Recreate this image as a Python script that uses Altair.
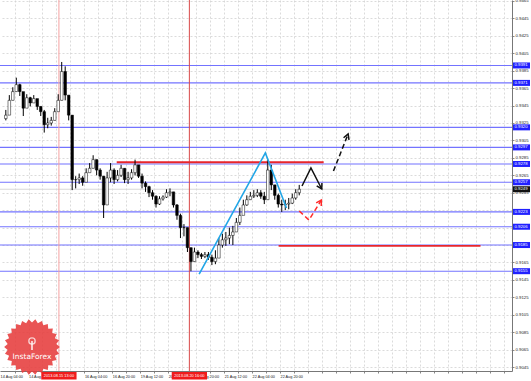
import math
import altair as alt
import pandas as pd

# ---------------- data ----------------
# bar time index (trading hours since 14 Aug 00:00, H2 bars)
bar_t = list(range(7, 7 + 2 * 85, 2))
close = [0.9334, 0.9351, 0.9361, 0.9369, 0.9361, 0.9342, 0.9354, 0.9348, 0.9353, 0.9344,
         0.9338, 0.9323, 0.9325, 0.9328, 0.9338, 0.9351, 0.9384, 0.9357, 0.9334, 0.9260,
         0.9260, 0.9262, 0.9257, 0.9268, 0.9273, 0.9283, 0.9271, 0.9264, 0.9231, 0.9262,
         0.9271, 0.9260, 0.9265, 0.9273, 0.9260, 0.9262, 0.9268, 0.9277, 0.9264, 0.9256,
         0.9252, 0.9245, 0.9241, 0.9232, 0.9238, 0.9240, 0.9245, 0.9246, 0.9231, 0.9219,
         0.9205, 0.9205, 0.9182, 0.9166, 0.9177, 0.9174, 0.9172, 0.9174, 0.9171, 0.9166,
         0.9170, 0.9185, 0.9191, 0.9193, 0.9196, 0.9200, 0.9211, 0.9219, 0.9231, 0.9237,
         0.9241, 0.9242, 0.9245, 0.9241, 0.9237, 0.9271, 0.9254, 0.9242, 0.9232, 0.9231,
         0.9232, 0.9233, 0.9239, 0.9245, 0.9249]
high = [0.9340, 0.9357, 0.9366, 0.9377, 0.9370, 0.9357, 0.9358, 0.9355, 0.9357, 0.9351,
        0.9344, 0.9340, 0.9331, 0.9332, 0.9342, 0.9358, 0.9395, 0.9390, 0.9351, 0.9334,
        0.9264, 0.9267, 0.9264, 0.9273, 0.9279, 0.9288, 0.9283, 0.9273, 0.9264, 0.9269,
        0.9279, 0.9273, 0.9271, 0.9277, 0.9273, 0.9269, 0.9272, 0.9283, 0.9276, 0.9267,
        0.9258, 0.9253, 0.9248, 0.9242, 0.9241, 0.9242, 0.9249, 0.9250, 0.9246, 0.9232,
        0.9221, 0.9209, 0.9205, 0.9182, 0.9182, 0.9179, 0.9176, 0.9177, 0.9177, 0.9174,
        0.9179, 0.9193, 0.9198, 0.9200, 0.9205, 0.9207, 0.9216, 0.9228, 0.9237, 0.9242,
        0.9246, 0.9248, 0.9249, 0.9248, 0.9246, 0.9283, 0.9277, 0.9254, 0.9244, 0.9237,
        0.9237, 0.9239, 0.9244, 0.9249, 0.9254]
low = [0.9328, 0.9338, 0.9351, 0.9361, 0.9356, 0.9333, 0.9347, 0.9344, 0.9348, 0.9340,
       0.9333, 0.9314, 0.9319, 0.9322, 0.9328, 0.9342, 0.9351, 0.9351, 0.9328, 0.9248,
       0.9250, 0.9255, 0.9253, 0.9262, 0.9269, 0.9273, 0.9265, 0.9260, 0.9216, 0.9237,
       0.9257, 0.9255, 0.9258, 0.9263, 0.9256, 0.9255, 0.9260, 0.9265, 0.9262, 0.9250,
       0.9246, 0.9240, 0.9237, 0.9228, 0.9231, 0.9236, 0.9239, 0.9241, 0.9228, 0.9214,
       0.9193, 0.9195, 0.9177, 0.9155, 0.9166, 0.9170, 0.9169, 0.9170, 0.9168, 0.9162,
       0.9163, 0.9177, 0.9182, 0.9184, 0.9186, 0.9185, 0.9200, 0.9208, 0.9223, 0.9230,
       0.9237, 0.9239, 0.9240, 0.9238, 0.9232, 0.9237, 0.9248, 0.9237, 0.9228, 0.9223,
       0.9225, 0.9226, 0.9232, 0.9237, 0.9242]
first_open = 0.9330

# right axis tick labels
price_ticks = [0.9045, 0.9065, 0.9085, 0.9105, 0.9125, 0.9145, 0.9165, 0.9185, 0.9205,
               0.9225, 0.9245, 0.9265, 0.9285, 0.9305, 0.9325, 0.9345, 0.9365, 0.9385,
               0.9405, 0.9425, 0.9445, 0.9465]
# time axis labels (15 Aug 12:00 is hidden under the red time box, so not drawn)
time_label_t = [4, 20, 52, 68, 84, 100, 116, 132, 148, 164]
time_label_txt = ["14 Aug 04:00", "14 Aug 20:00", "16 Aug 04:00",
                  "16 Aug 20:00", "19 Aug 12:00", "20 Aug 04:00", "20 Aug 20:00",
                  "21 Aug 12:00", "22 Aug 04:00", "22 Aug 20:00"]
grid_t = list(range(12, 296, 8))

# horizontal support / resistance levels (blue)
levels = [0.9391, 0.9371, 0.9320, 0.9297, 0.9278, 0.9257, 0.9223, 0.9206, 0.9185, 0.9155]
bid = 0.9249

# red horizontal segments
red_p = [0.9280, 0.9184]
red_t1 = [70.5, 163.2]
red_t2 = [189.0, 278.8]

# vertical markers
vl_t = [37.4, 112.1]
vl_txt = ["2013.08.15 13:00", "2013.08.20 16:00"]
vl_col = ["#f5a3a3", "#d94848"]

# blue trend lines
blue_t = [117.7, 155.6, 167.7]
blue_p = [0.91517, 0.92906, 0.92275]

# forecast arrows (id, t, p)
arrows = [
    ("bs", 176.6, 0.92527), ("bs", 181.7, 0.92734), ("bs", 187.9, 0.92493),
    ("bsh", 185.0, 0.92529), ("bsh", 187.9, 0.92493), ("bsh", 188.0, 0.92561),
    ("bd", 194.6, 0.92699), ("bd", 203.0, 0.93124),
    ("bdh", 200.4, 0.93081), ("bdh", 203.0, 0.93124), ("bdh", 203.5, 0.93056),
    ("rd", 175.0, 0.92240), ("rd", 180.6, 0.92137), ("rd", 187.7, 0.92366),
    ("rdh", 184.7, 0.92334), ("rdh", 187.7, 0.92366), ("rdh", 187.6, 0.92297),
]
arrow_style = {"bs": ("#111111", "solid"), "bsh": ("#111111", "solid"),
               "bd": ("#111111", "dash"), "bdh": ("#111111", "solid"),
               "rd": ("#ff2b2b", "dash"), "rdh": ("#ff2b2b", "solid")}

# ---------------- build tables ----------------
opens = [first_open] + close[:-1]
candles = pd.DataFrame({"t": bar_t, "o": opens, "c": close, "h": high, "l": low})
candles["up"] = candles["c"] >= candles["o"]

XS = alt.Scale(domain=[6.53, 293.97], nice=False, zero=False)
YS = alt.Scale(domain=[0.90405, 0.94661], nice=False, zero=False)
FONT = "Liberation Sans"

label_expr = " : ".join(
    f"datum.value == {t} ? '{s}'" for t, s in zip(time_label_t[1:], time_label_txt[1:])
) + " : ''"

x_axis = alt.Axis(values=grid_t, labelExpr=label_expr, grid=True, gridDash=[2, 2],
                  gridColor="#d2d2d2", gridWidth=0.8, labelFontSize=3.8, labelFont=FONT,
                  labelColor="#222", labelAlign="left", labelPadding=1.5, labelFlush=False,
                  labelOverlap=False, tickSize=2, tickColor="#888", domainColor="#777",
                  title=None)
y_axis = alt.Axis(values=price_ticks, format=".4f", orient="right", grid=True,
                  gridDash=[2, 2], gridColor="#d2d2d2", gridWidth=0.8, labelFontSize=4.3,
                  labelFont=FONT, labelColor="#222", labelPadding=1, tickSize=2,
                  tickColor="#888", domainColor="#777", labelFlush=False,
                  labelOverlap=False, title=None)


def X(field="t"):
    return alt.X(f"{field}:Q", scale=XS, axis=x_axis, title=None)


def Y(field):
    return alt.Y(f"{field}:Q", scale=YS, axis=y_axis, title=None)


# level lines
lev_df = pd.DataFrame({"p": levels, "txt": [f"{v:.4f}" for v in levels]})
level_lines = alt.Chart(lev_df).mark_rule(color="#7373ff", strokeWidth=1.1).encode(
    y=Y("p"), x=alt.value(0), x2=alt.value(512))

bid_df = pd.DataFrame({"p": [bid], "txt": [f"{bid:.4f}"]})
bid_line = alt.Chart(bid_df).mark_rule(color="#d8d8d8", strokeWidth=1).encode(
    y=Y("p"), x=alt.value(0), x2=alt.value(512))

# vertical markers
vl_df = pd.DataFrame({"t": vl_t, "txt": vl_txt, "col": vl_col,
                      "t1": [v - 10.1 for v in vl_t], "t2": [v + 10.1 for v in vl_t]})
vlines = alt.Chart(vl_df).mark_rule(strokeWidth=1).encode(
    x=X(), y=alt.value(0), y2=alt.value(371),
    color=alt.Color("col:N", scale=None))

# red horizontal segments
red_df = pd.DataFrame({"p": red_p, "t1": red_t1, "t2": red_t2})
red_lines = alt.Chart(red_df).mark_rule(color="#e8262b", strokeWidth=1.8).encode(
    y=Y("p"), x=X("t1"), x2=alt.X2("t2:Q"))

# candles
wicks = alt.Chart(candles).mark_rule(color="#000", strokeWidth=1).encode(
    x=X(), y=Y("l"), y2=alt.Y2("h:Q"))
bodies = alt.Chart(candles).mark_bar(size=2.6, stroke="#000", strokeWidth=0.5).encode(
    x=X(), y=Y("o"), y2=alt.Y2("c:Q"),
    fill=alt.condition("datum.up", alt.value("#ffffff"), alt.value("#000000")))

# blue trend lines
blue_df = pd.DataFrame({"t": blue_t, "p": blue_p, "k": range(len(blue_t))})
blue = alt.Chart(blue_df).mark_line(color="#22a6e6", strokeWidth=1.6).encode(
    x=X(), y=Y("p"), order="k:Q")

# arrows
arr_df = pd.DataFrame(arrows, columns=["id", "t", "p"])
arr_df["k"] = range(len(arr_df))
layers_arrows = []
for aid, (col, style) in arrow_style.items():
    sub = arr_df[arr_df["id"] == aid]
    kw = dict(color=col, strokeWidth=1.5)
    if style == "dash":
        kw["strokeDash"] = [5, 3]
    layers_arrows.append(alt.Chart(sub).mark_line(**kw).encode(
        x=X(), y=Y("p"), order="k:Q"))

# right-axis highlighted labels
lev_boxes = alt.Chart(lev_df).mark_rule(color="#2020ff", strokeWidth=6, strokeCap="butt").encode(
    y=Y("p"), x=alt.value(513), x2=alt.value(530))
lev_text = alt.Chart(lev_df).mark_text(color="#fff", fontSize=4.3, font=FONT, align="left",
                                       baseline="middle").encode(
    y=Y("p"), x=alt.value(514.5), text="txt:N")
bid_box = alt.Chart(bid_df).mark_rule(color="#111", strokeWidth=6, strokeCap="butt").encode(
    y=Y("p"), x=alt.value(513), x2=alt.value(530))
bid_text = alt.Chart(bid_df).mark_text(color="#fff", fontSize=4.3, font=FONT, align="left",
                                       baseline="middle").encode(
    y=Y("p"), x=alt.value(514.5), text="txt:N")

# bottom red time boxes
vl_boxes = alt.Chart(vl_df).mark_rect(color="#f01c1c").encode(
    x=X("t1"), x2=alt.X2("t2:Q"), y=alt.value(372), y2=alt.value(379.5))
vl_text = alt.Chart(vl_df).mark_text(color="#fff", fontSize=3.9, font=FONT,
                                     baseline="middle").encode(
    x=X(), y=alt.value(375.8), text="txt:N")

# partially visible first time label
first_lbl = pd.DataFrame({"t": time_label_t[:1], "txt": time_label_txt[:1]})
first_text = alt.Chart(first_lbl).mark_text(color="#222", fontSize=3.8, font=FONT,
                                            align="left", baseline="top").encode(
    x=X(), y=alt.value(374.5), text="txt:N")

# InstaForex badge
n = 26
pts = []
for i in range(2 * n):
    r = 1.0 if i % 2 == 0 else 0.88
    a = math.pi * i / n
    pts.append(f"{r * math.cos(a):.4f},{r * math.sin(a):.4f}")
star_path = "M" + " L".join(pts) + " Z"
logo_df = pd.DataFrame({"name": ["InstaForex"]})
badge = alt.Chart(logo_df).mark_point(shape=star_path, filled=True, size=3100,
                                      color="#e63c3c", opacity=0.88).encode(
    x=alt.value(32), y=alt.value(347))
badge_txt = alt.Chart(logo_df).mark_text(color="#fff", fontSize=7.5, font="DejaVu Sans").encode(
    x=alt.value(32), y=alt.value(357), text="name:N")
badge_icon = alt.Chart(logo_df).mark_point(shape="circle", filled=False, size=40,
                                           color="#fff", strokeWidth=1.4).encode(
    x=alt.value(32), y=alt.value(341))
badge_icon2 = alt.Chart(logo_df).mark_rule(color="#fff", strokeWidth=1.4).encode(
    x=alt.value(32), y=alt.value(341), y2=alt.value(350))

chart = alt.layer(
    level_lines, bid_line, vlines, red_lines, wicks, bodies, blue,
    *layers_arrows, lev_boxes, lev_text, bid_box, bid_text, vl_boxes, vl_text,
    first_text, badge, badge_txt, badge_icon, badge_icon2,
).properties(
    width=512, height=371,
    padding={"left": 0, "top": 0, "right": 19, "bottom": 10},
    autosize=alt.AutoSizeParams(type="none"),
    background="#ffffff",
).configure_view(stroke=None)

chart.save("out.html", embed_options={"renderer": "svg", "actions": False})
